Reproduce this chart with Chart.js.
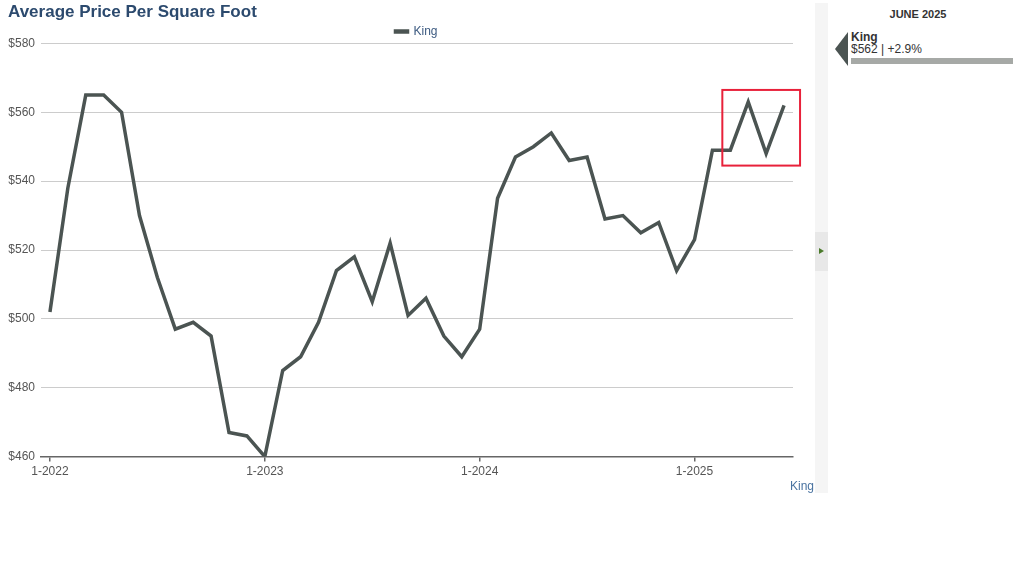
<!DOCTYPE html>
<html>
<head>
<meta charset="utf-8">
<script src="https://cdn.jsdelivr.net/npm/chart.js@4"></script>
<style>
  body { margin: 0; background: #fff; font-family: "Liberation Sans", Arial, sans-serif; }
  #wrap { position: absolute; left: 0; top: 0; width: 815px; height: 495px; }
  #strip { position: absolute; left: 815px; top: 3px; width: 13px; height: 490px; background: #f5f5f5; }
  #strip .knob { position: absolute; left: 0; top: 229px; width: 13px; height: 39px; background: #e8e8e8; }
  #strip .knob:after { content: ''; position: absolute; left: 4px; top: 16px; border-left: 5px solid #4a7a2a; border-top: 3.5px solid transparent; border-bottom: 3.5px solid transparent; }
  #axisName { position: absolute; left: 790px; top: 479px; font-size: 12px; color: #4a73a0; }
  #panel { position: absolute; left: 830px; top: 0; width: 194px; }
  #month { position: absolute; left: 0; width: 176px; top: 8px; text-align: center; font-size: 11px; font-weight: bold; color: #333; }
  #arrow { position: absolute; left: 5px; top: 32px; border-right: 13px solid #4b5452; border-top: 17px solid transparent; border-bottom: 17px solid transparent; }
  #sName { position: absolute; left: 21px; top: 30px; font-size: 12px; font-weight: bold; color: #333; }
  #sVal { position: absolute; left: 21px; top: 42px; font-size: 12px; color: #333; }
  #sBar { position: absolute; left: 21px; top: 58px; width: 162px; height: 6px; background: #a6a9a6; }
</style>
</head>
<body>
<div id="wrap"><canvas id="chart"></canvas></div>
<div id="strip"><div class="knob"></div></div>
<div id="axisName">King</div>
<div id="panel">
  <div id="month"></div>
  <div id="arrow"></div>
  <div id="sName"></div>
  <div id="sVal"></div>
  <div id="sBar"></div>
</div>
<script>
// monthly labels Jan 2022 .. Jun 2025
const months = [];
for (let y = 2022; y <= 2025; y++) {
    for (let m = 1; m <= 12; m++) {
        if (y === 2025 && m > 6) break;
        months.push(m + '-' + y);
    }
}

const seriesName = 'King';
const kingPrice = [
    502, 538, 565, 565, 560, 530, 512, 497, 499, 495, 467, 466,
    460, 485, 489, 499, 514, 518, 505, 522, 501, 506, 495, 489,
    497, 535, 547, 550, 554, 546, 547, 529, 530, 525, 528, 514,
    523, 549, 549, 563, 548, 562
];
const yTicks = [460, 480, 500, 520, 540, 560, 580];
const highlightFrom = 38; // red box around the latest months
const changePct = '+2.9%';

const lineColor = '#4b5452';

// side panel text
document.getElementById('month').textContent = 'JUNE 2025';
document.getElementById('sName').textContent = seriesName;
document.getElementById('sVal').textContent = '$' + kingPrice[kingPrice.length - 1] + ' | ' + changePct;

// red highlight box drawn from the scales
const highlightBox = {
    id: 'highlightBox',
    afterInit(chart) {
        // legend sits a bit closer to the plot
        const legend = chart.legend;
        const fit = legend.fit;
        legend.fit = function () {
            fit.call(this);
            this.height -= 4;
        };
    },
    afterLayout(chart) {
        // centre the legend over the plot area rather than the canvas
        chart.legend.left += 32;
    },
    afterDraw(chart) {
        const x = chart.scales.x, y = chart.scales.y;
        const part = kingPrice.slice(highlightFrom);
        const left = x.getPixelForValue(highlightFrom) - 8;
        const right = x.getPixelForValue(kingPrice.length - 1) + 16;
        const top = y.getPixelForValue(Math.max(...part)) - 12;
        const bottom = y.getPixelForValue(Math.min(...part)) + 12;
        const ctx = chart.ctx;
        ctx.save();
        ctx.strokeStyle = '#e8213a';
        ctx.lineWidth = 2;
        ctx.strokeRect(left, top, right - left, bottom - top);
        ctx.restore();
    }
};

const ctx = document.getElementById('chart').getContext('2d');
new Chart(ctx, {
    type: 'line',
    data: {
        labels: months,
        datasets: [{
            label: seriesName,
            data: kingPrice,
            borderColor: lineColor,
            backgroundColor: lineColor,
            borderWidth: 3.5,
            pointRadius: 0,
            tension: 0
        }]
    },
    options: {
        responsive: true,
        maintainAspectRatio: false,
        animation: false,
        layout: { padding: { left: 8, right: 22, top: 0, bottom: 13 } },
        plugins: {
            title: {
                display: true,
                text: 'Average Price Per Square Foot',
                align: 'start',
                color: '#2c4a6e',
                font: { family: 'Liberation Sans', size: 17, weight: 'bold' },
                padding: { top: 2, bottom: 0 }
            },
            legend: {
                labels: {
                    boxWidth: 12,
                    boxHeight: 1,
                    color: '#3c5a80',
                    font: { family: 'Liberation Sans', size: 12 },
                    padding: 3
                }
            },
            tooltip: { enabled: false }
        },
        scales: {
            x: {
                offset: true,
                border: { display: true, color: '#666', width: 1.5 },
                grid: {
                    offset: false,
                    drawOnChartArea: false,
                    drawTicks: true,
                    tickLength: 5,
                    tickColor: '#666',
                    lineWidth: 1.5
                },
                ticks: {
                    autoSkip: false,
                    maxRotation: 0,
                    color: '#555',
                    padding: 3,
                    font: { family: 'Liberation Sans', size: 12 },
                    callback: function (v, i) {
                        return months[i].startsWith('1-') ? months[i] : null;
                    }
                }
            },
            y: {
                min: yTicks[0],
                max: yTicks[yTicks.length - 1],
                border: { display: false },
                afterBuildTicks: function (axis) {
                    axis.ticks = yTicks.map(v => ({ value: v }));
                },
                afterFit: function (axis) {
                    axis.width = 33;
                },
                grid: {
                    color: '#cccccc',
                    lineWidth: 1,
                    drawTicks: false
                },
                ticks: {
                    color: '#555',
                    padding: 6,
                    font: { family: 'Liberation Sans', size: 12, lineHeight: 0.6 },
                    callback: v => '$' + v
                }
            }
        }
    },
    plugins: [highlightBox]
});
</script>
</body>
</html>
